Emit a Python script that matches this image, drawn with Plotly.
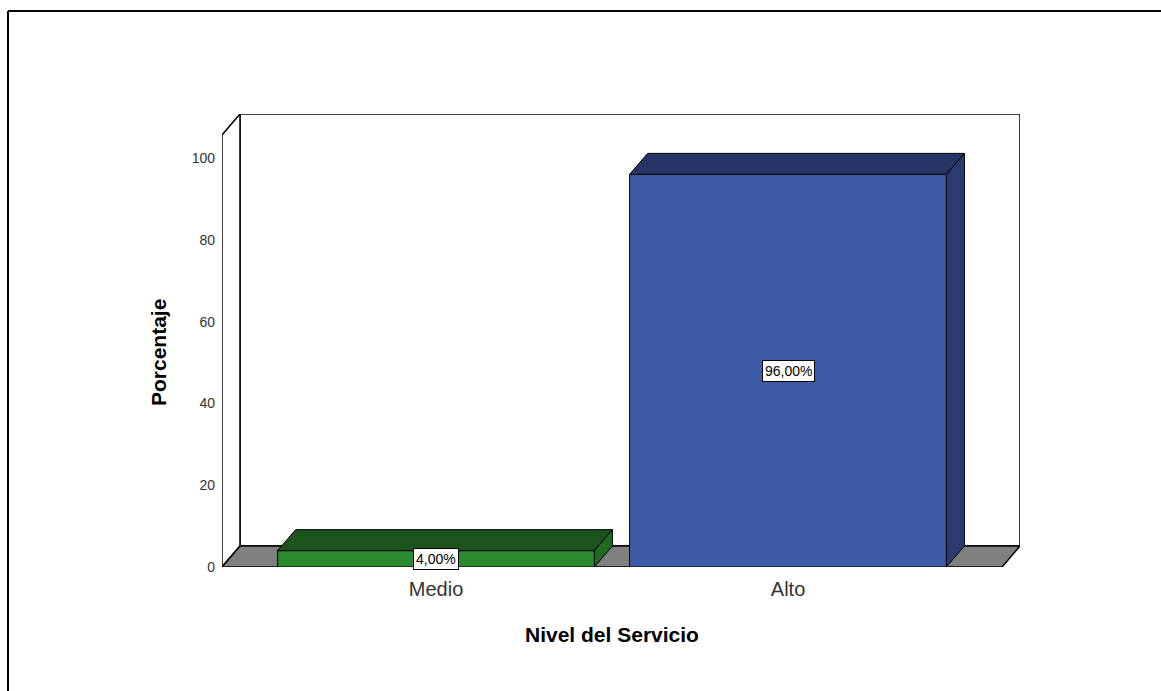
import plotly.graph_objects as go

# Data
categories = ["Medio", "Alto"]
percentages = [4.00, 96.00]
y_ticks = [0, 20, 40, 60, 80, 100]

# Styling
front_colors = ["#2B8A2E", "#3F5BA8"]
top_colors = ["#1C521C", "#263566"]
side_colors = ["#1F6B22", "#2B3B72"]
floor_color = "#808080"
font_family = "Liberation Sans, Arial, sans-serif"

# Pseudo-3D geometry (depth offset in data units)
BAR_W = 0.9
DX = 0.0511
DY = 5.13
X_MIN, X_MAX = -0.608, 1.659
Y_MAX = 110.76
Y_FRONT_TOP = Y_MAX - DY
X_FRONT_RIGHT = X_MAX - DX

# Figure / plot-area size in pixels
W, H = 1161, 691
ML, MR, MT, MB = 222, 141, 114, 124
PW, PH = W - ML - MR, H - MT - MB


def px_to_paper(px, py):
    return (px - ML) / PW, (H - MB - py) / PH


fig = go.Figure()


def poly(xs, ys, fill, width=1):
    fig.add_trace(go.Scatter(
        x=xs + [xs[0]], y=ys + [ys[0]], mode="lines", fill="toself",
        fillcolor=fill, line=dict(color="black", width=width),
        hoverinfo="skip", showlegend=False))


# Back wall
poly([X_MIN + DX, X_MAX, X_MAX, X_MIN + DX], [DY, DY, Y_MAX, Y_MAX], "white", 1.5)
# Left wall
poly([X_MIN, X_MIN, X_MIN + DX, X_MIN + DX], [0, Y_FRONT_TOP, Y_MAX, DY], "white", 1.5)
# Floor
poly([X_MIN, X_FRONT_RIGHT, X_MAX, X_MIN + DX], [0, 0, DY, DY], floor_color, 1.5)

# Bars: front face, top face, right side face
for i, (cat, v) in enumerate(zip(categories, percentages)):
    x0, x1 = i - BAR_W / 2, i + BAR_W / 2
    poly([x0, x1, x1, x0], [0, 0, v, v], front_colors[i])
    poly([x0, x0 + DX, x1 + DX, x1], [v, v + DY, v + DY, v], top_colors[i])
    poly([x1, x1, x1 + DX, x1 + DX], [0, v, v + DY, DY], side_colors[i])
    fig.add_annotation(
        x=i, y=v / 2, text=f"{v:.2f}".replace(".", ",") + "%",
        showarrow=False, bgcolor="white", bordercolor="black", borderwidth=1,
        borderpad=2, font=dict(family=font_family, size=14, color="black"))

fig.update_layout(
    width=W, height=H,
    margin=dict(l=ML, r=MR, t=MT, b=MB),
    paper_bgcolor="white", plot_bgcolor="white",
    showlegend=False,
    xaxis=dict(range=[X_MIN, X_MAX], tickvals=list(range(len(categories))),
               ticktext=categories, showgrid=False, zeroline=False, showline=False,
               ticks="", ticklabelstandoff=8,
               tickfont=dict(family=font_family, size=20, color="#333333")),
    yaxis=dict(range=[0, Y_MAX], tickvals=y_ticks, showgrid=False, zeroline=False,
               showline=False, ticks="", ticklabelstandoff=6,
               tickfont=dict(family=font_family, size=14, color="#333333")),
)

# Axis titles
tx, ty = px_to_paper(612, 634)
fig.add_annotation(xref="paper", yref="paper", x=tx, y=ty, xanchor="center", yanchor="middle",
                   text="<b>Nivel del Servicio</b>", showarrow=False,
                   font=dict(family=font_family, size=21, color="black"))
tx, ty = px_to_paper(158, 353)
fig.add_annotation(xref="paper", yref="paper", x=tx, y=ty, xanchor="center", yanchor="middle",
                   text="<b>Porcentaje</b>", showarrow=False, textangle=-90,
                   font=dict(family=font_family, size=21, color="black"))

# Outer frame: top and left edges
fx0, fy0 = px_to_paper(8, 11)
fx1, _ = px_to_paper(W, 11)
_, fy1 = px_to_paper(8, H)
fig.add_shape(type="line", xref="paper", yref="paper", x0=fx0, x1=fx1, y0=fy0, y1=fy0,
              line=dict(color="black", width=2))
fig.add_shape(type="line", xref="paper", yref="paper", x0=fx0, x1=fx0, y0=fy0, y1=fy1,
              line=dict(color="black", width=2))

fig.write_html("out.html")
